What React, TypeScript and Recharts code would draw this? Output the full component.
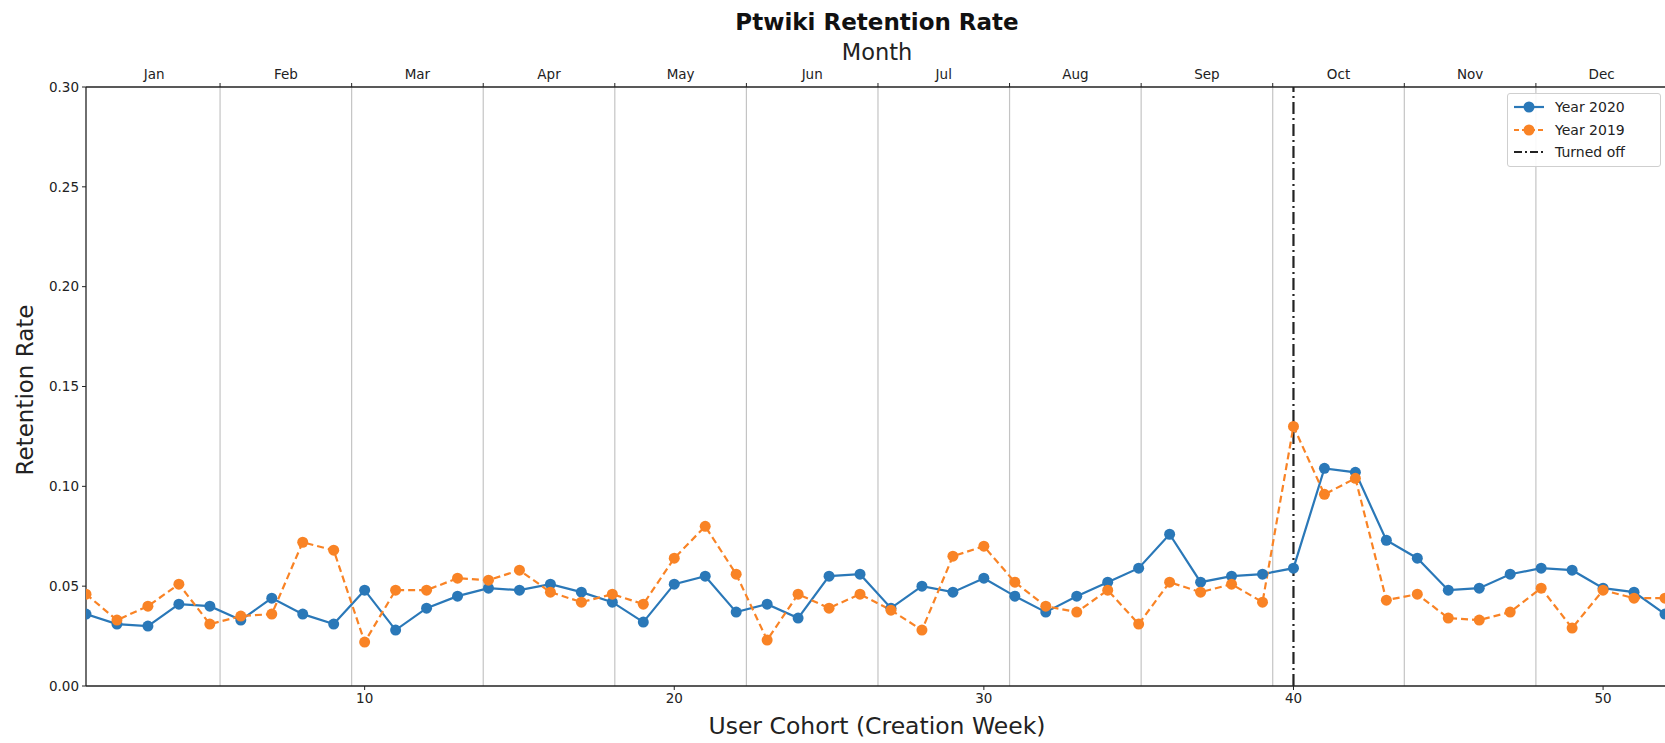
import React from 'react';
import { LineChart, Line, XAxis, YAxis, ReferenceLine } from 'recharts';

const weeks = [1,2,3,4,5,6,7,8,9,10,11,12,13,14,15,16,17,18,19,20,21,22,23,24,25,26,27,28,29,30,31,32,33,34,35,36,37,38,39,40,41,42,43,44,45,46,47,48,49,50,51,52];
const year2020 = [0.036,0.031,0.030,0.041,0.040,0.033,0.044,0.036,0.031,0.048,0.028,0.039,0.045,0.049,0.048,0.051,0.047,0.042,0.032,0.051,0.055,0.037,0.041,0.034,0.055,0.056,0.039,0.050,0.047,0.054,0.045,0.037,0.045,0.052,0.059,0.076,0.052,0.055,0.056,0.059,0.109,0.107,0.073,0.064,0.048,0.049,0.056,0.059,0.058,0.049,0.047,0.036];
const year2019 = [0.046,0.033,0.040,0.051,0.031,0.035,0.036,0.072,0.068,0.022,0.048,0.048,0.054,0.053,0.058,0.047,0.042,0.046,0.041,0.064,0.080,0.056,0.023,0.046,0.039,0.046,0.038,0.028,0.065,0.070,0.052,0.040,0.037,0.048,0.031,0.052,0.047,0.051,0.042,0.130,0.096,0.104,0.043,0.046,0.034,0.033,0.037,0.049,0.029,0.048,0.044,0.044];
const months = ['Jan','Feb','Mar','Apr','May','Jun','Jul','Aug','Sep','Oct','Nov','Dec'];
const monthBoundaries = [5.33, 9.58, 13.83, 18.08, 22.33, 26.58, 30.83, 35.08, 39.33, 43.58, 47.83];
const monthRange = [1.08, 52.08];
const yTicks = [0, 0.05, 0.1, 0.15, 0.2, 0.25, 0.3];
const xTicks = [10, 20, 30, 40, 50];
const turnedOffWeek = 40;
const legendLabels = ['Year 2020', 'Year 2019', 'Turned off'];

const edges = [monthRange[0], ...monthBoundaries, monthRange[1]];
const monthCenters = months.map((_, i) => (edges[i] + edges[i + 1]) / 2);

const data = weeks.map((w, i) => ({ week: w, y2020: year2020[i], y2019: year2019[i] }));

const BLUE = '#2a78b8';
const ORANGE = '#f98325';
const FONT = '"DejaVu Sans", Verdana, sans-serif';
const TICK_FS = 13.5;

const TopTick = (props: any) => {
  const { x, y, payload } = props;
  const v = payload.value;
  const ci = monthCenters.indexOf(v);
  if (ci >= 0) {
    return (
      <text x={x} y={y} dy={-2} textAnchor="middle" fontSize={TICK_FS} fontFamily={FONT} fill="#222">
        {months[ci]}
      </text>
    );
  }
  return <line x1={x} x2={x} y1={y + 6} y2={y + 2} stroke="#222" strokeWidth={1} />;
};

const LegendBox = () => {
  const items = [
    { label: legendLabels[0], color: BLUE, dash: undefined as string | undefined, dot: true },
    { label: legendLabels[1], color: ORANGE, dash: '5 3', dot: true },
    { label: legendLabels[2], color: '#222', dash: '8 3 2 3', dot: false },
  ];
  return (
    <div style={{ position: 'absolute', left: 1507, top: 93, width: 154, boxSizing: 'border-box', border: '1px solid #cfcfcf', borderRadius: 3, background: 'rgba(255,255,255,0.9)', padding: '2px 4px 2px 4px', fontFamily: FONT, fontSize: 14, color: '#222' }}>
      {items.map((it) => (
        <div key={it.label} style={{ display: 'flex', alignItems: 'center', height: 22.5 }}>
          <svg width={34} height={12} style={{ marginRight: 9 }}>
            <line x1={2} x2={32} y1={6} y2={6} stroke={it.color} strokeWidth={2.2} strokeDasharray={it.dash} />
            {it.dot && <circle cx={17} cy={6} r={5.5} fill={it.color} />}
          </svg>
          <span>{it.label}</span>
        </div>
      ))}
    </div>
  );
};

export default function App() {
  return (
    <div style={{ position: 'absolute', left: 0, top: 0, width: 1665, height: 743, background: '#fff', overflow: 'hidden' }}>
      <LineChart width={1665} height={743} data={data} margin={{ top: 57, right: 0, bottom: 0, left: 0 }}>
        <XAxis
          dataKey="week"
          type="number"
          domain={[1, 52]}
          ticks={xTicks}
          allowDataOverflow
          height={57}
          tick={{ fontSize: TICK_FS, fontFamily: FONT, fill: '#222' }}
          tickSize={4}
          tickMargin={3}
          axisLine={{ stroke: '#222', strokeWidth: 1.3 }}
          tickLine={{ stroke: '#222' }}
        />
        <XAxis
          xAxisId="top"
          orientation="top"
          type="number"
          dataKey="week"
          domain={[1, 52]}
          allowDataOverflow
          ticks={[...monthBoundaries, ...monthCenters]}
          interval={0}
          height={30}
          tickSize={4}
          tickMargin={2}
          tickLine={false}
          tick={<TopTick />}
          axisLine={{ stroke: '#222', strokeWidth: 1.3 }}
        />
        <YAxis
          type="number"
          domain={[0, 0.3]}
          ticks={yTicks}
          width={86}
          tickFormatter={(v: number) => v.toFixed(2)}
          tick={{ fontSize: TICK_FS, fontFamily: FONT, fill: '#222' }}
          tickSize={4}
          tickMargin={3}
          axisLine={{ stroke: '#222', strokeWidth: 1.3 }}
          tickLine={{ stroke: '#222' }}
        />
        {monthBoundaries.map((b) => (
          <ReferenceLine key={b} x={b} stroke="#c4c4c4" strokeWidth={1.2} />
        ))}
        <ReferenceLine x={turnedOffWeek} stroke="#222" strokeWidth={2.2} strokeDasharray="12 4 2 4" />
        <Line dataKey="y2020" stroke={BLUE} strokeWidth={2.2} dot={{ r: 5.5, fill: BLUE, stroke: BLUE, strokeWidth: 0 }} isAnimationActive={false} />
        <Line dataKey="y2019" stroke={ORANGE} strokeWidth={2.2} strokeDasharray="7 4" dot={{ r: 5.5, fill: ORANGE, stroke: ORANGE, strokeWidth: 0, strokeDasharray: '' }} isAnimationActive={false} />
      </LineChart>
      <LegendBox />
      <div style={{ position: 'absolute', left: 0, width: 1754, top: 8, textAlign: 'center', fontFamily: FONT, fontWeight: 'bold', fontSize: 23, color: '#111', lineHeight: '28px' }}>
        Ptwiki Retention Rate
      </div>
      <div style={{ position: 'absolute', left: 0, width: 1754, top: 38, textAlign: 'center', fontFamily: FONT, fontSize: 22.5, color: '#222', lineHeight: '28px' }}>
        Month
      </div>
      <div style={{ position: 'absolute', left: 0, width: 1754, top: 711, textAlign: 'center', fontFamily: FONT, fontSize: 23.5, color: '#222', lineHeight: '30px' }}>
        User Cohort (Creation Week)
      </div>
      <div style={{ position: 'absolute', left: 25, top: 390, transform: 'translate(-50%, -50%) rotate(-90deg)', whiteSpace: 'nowrap', fontFamily: FONT, fontSize: 23, color: '#222', lineHeight: '30px' }}>
        Retention Rate
      </div>
    </div>
  );
}
